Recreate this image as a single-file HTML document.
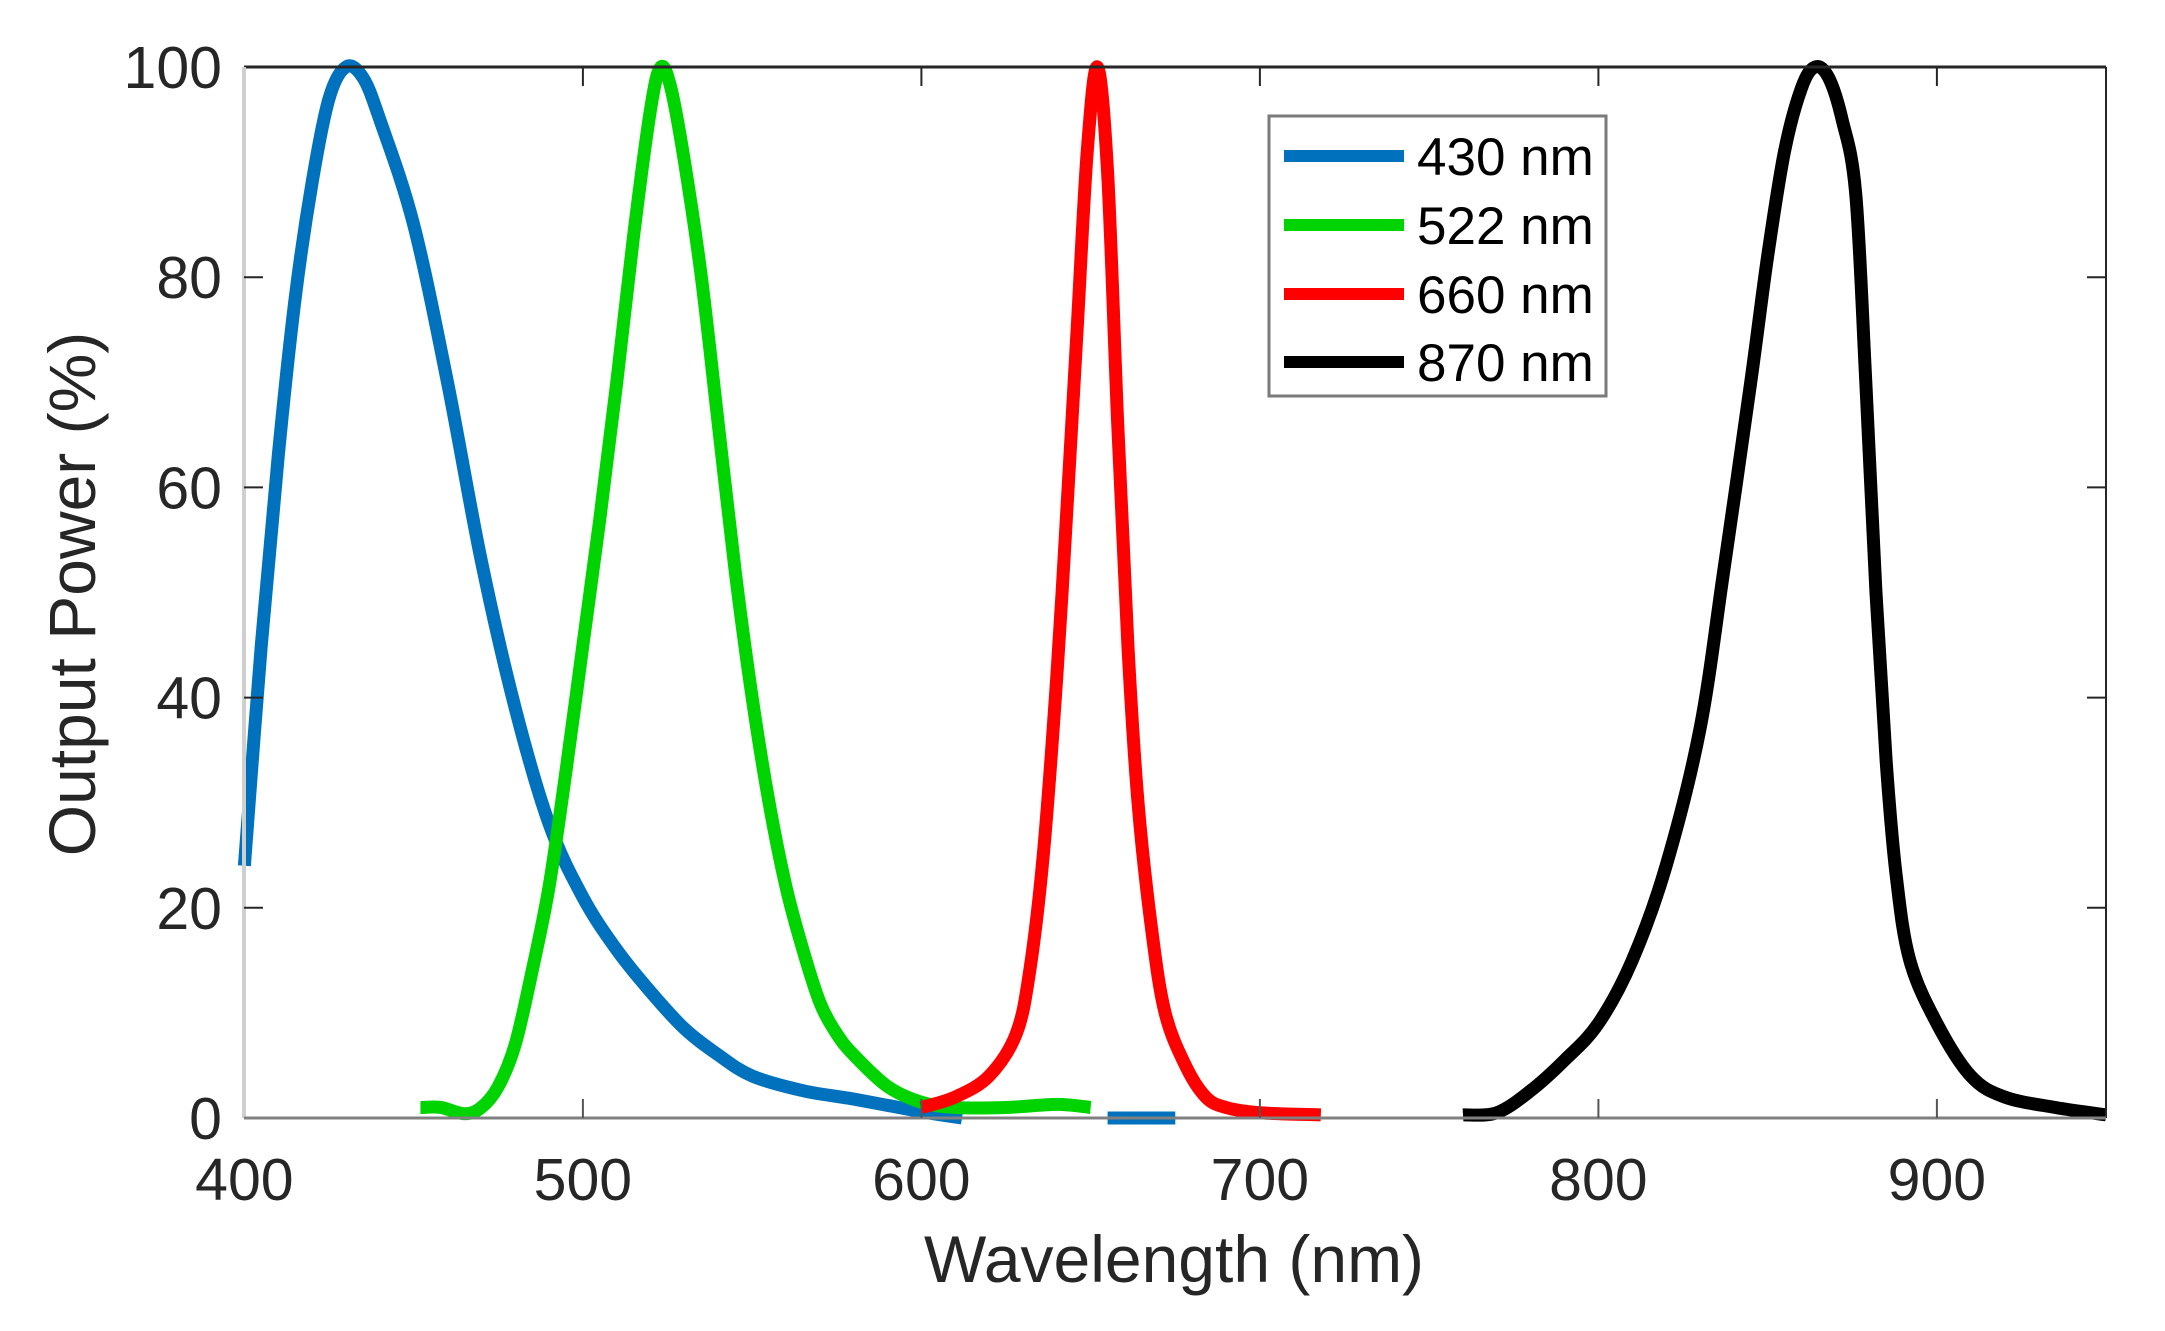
<!DOCTYPE html>
<html><head><meta charset="utf-8"><style>
html,body{margin:0;padding:0;background:#fff;}
svg{display:block;}
text{font-family:"Liberation Sans",Arial,sans-serif;fill:#262626;}
</style></head><body>
<svg id="s" width="2165" height="1331" viewBox="0 0 2165 1331" xmlns="http://www.w3.org/2000/svg">
<rect width="2165" height="1331" fill="#fff"/>
<g id="curves" fill="none" stroke-width="13" stroke-linejoin="round" stroke-linecap="butt"></g>
<line x1="244" y1="67" x2="2106" y2="67" stroke="#262626" stroke-width="3"/>
<line x1="2106" y1="67" x2="2106" y2="1118" stroke="#262626" stroke-width="2"/>
<line x1="244" y1="67" x2="244" y2="1118" stroke="#cfcfcf" stroke-width="4"/>
<line x1="244" y1="1118" x2="2106" y2="1118" stroke="#808080" stroke-width="3"/>
<g id="ticks" stroke="#262626" stroke-width="2"></g>
<g id="labels" font-size="59" text-anchor="middle"></g>
<text x="1174" y="1282" font-size="66" text-anchor="middle">Wavelength (nm)</text>
<text transform="translate(95,594) rotate(-90)" font-size="66" text-anchor="middle">Output Power (%)</text>
<rect x="1269" y="116" width="337" height="280" fill="#fff" stroke="#7a7a7a" stroke-width="3"/>
<line x1="1284" y1="156" x2="1404" y2="156" stroke="#0072BD" stroke-width="12"/>
<line x1="1284" y1="225" x2="1404" y2="225" stroke="#00D400" stroke-width="12"/>
<line x1="1284" y1="294" x2="1404" y2="294" stroke="#FF0000" stroke-width="12"/>
<line x1="1284" y1="362" x2="1404" y2="362" stroke="#000" stroke-width="12"/>
<g font-size="53">
<text x="1417" y="175" style="fill:#000">430 nm</text>
<text x="1417" y="244" style="fill:#000">522 nm</text>
<text x="1417" y="313" style="fill:#000">660 nm</text>
<text x="1417" y="381" style="fill:#000">870 nm</text>
</g>
</svg>
<script>
var X=function(n){return 244.4+(n-400)*3.385;};
var Y=function(p){return 1118-p*10.51;};
var NS="http://www.w3.org/2000/svg";
function el(par,tag,attrs,txt){var e=document.createElementNS(NS,tag);for(var k in attrs)e.setAttribute(k,attrs[k]);if(txt!=null)e.textContent=txt;par.appendChild(e);return e;}
var tk=document.getElementById('ticks'),lb=document.getElementById('labels');
for(var n=400;n<=900;n+=100){var x=X(n);
 if(n>400){el(tk,'line',{x1:x,y1:1118,x2:x,y2:1099,stroke:'#555'});el(tk,'line',{x1:x,y1:67,x2:x,y2:86});}
 el(lb,'text',{x:x,y:1200},n);}
for(var p=0;p<=100;p+=20){var y=Y(p);
 if(p>0&&p<100){el(tk,'line',{x1:244,y1:y,x2:263,y2:y});el(tk,'line',{x1:2106,y1:y,x2:2087,y2:y});}
 el(lb,'text',{x:222,y:y+21,'text-anchor':'end'},p);}
function path(pts){var P=pts.map(function(a){return[X(a[0]),Y(a[1])];});
 var d='M'+P[0][0]+','+P[0][1];
 for(var i=0;i<P.length-1;i++){var p0=P[Math.max(0,i-1)],p1=P[i],p2=P[i+1],p3=P[Math.min(P.length-1,i+2)];
  var c1=[p1[0]+(p2[0]-p0[0])/6,p1[1]+(p2[1]-p0[1])/6],c2=[p2[0]-(p3[0]-p1[0])/6,p2[1]-(p3[1]-p1[1])/6];
  d+=' C'+c1[0]+','+c1[1]+' '+c2[0]+','+c2[1]+' '+p2[0]+','+p2[1];}
 return d;}
var S=[
['#0072BD',[[400,24],[405,45],[410,63],[415,78],[420,89],[425,97],[430,100],[435,99],[440,95],[450,85],[460,70],[470,53],[480,39],[490,28],[500,21],[510,16],[520,12],[530,8.5],[540,6],[550,4],[565,2.6],[580,1.8],[600,0.6],[612,0]]],
['#0072BD',[[655,0],[675,0]]],
['#00D400',[[452,1],[458,1],[465,0.4],[470,1],[475,3],[480,7],[485,14],[490,22],[495,33],[500,45],[505,57],[510,70],[515,84],[520,96],[523,100],[526,98],[530,91],[535,80],[540,66],[545,52],[550,40],[555,30],[560,22],[565,16],[570,11],[575,8],[580,6],[590,3],[600,1.5],[610,1],[625,1],[640,1.3],[650,1]]],
['#FF0000',[[600,1],[610,2],[620,4],[628,8],[632,14],[636,25],[640,42],[643,58],[646,75],[649,92],[652,100],[655,90],[658,66],[661,45],[664,30],[668,18],[672,10],[678,5],[684,2],[690,1],[700,0.5],[718,0.3]]],
['#000000',[[760,0.3],[770,0.5],[780,2.6],[790,5.5],[800,9],[810,15],[820,24],[830,37],[837,52],[845,70],[850,82],[855,92],[860,98],[864,100],[868,99],[872,95],[876,88],[879,70],[882,50],[885,34],[888,23],[892,15],[900,9],[910,4],[920,2],[935,1],[950,0.3]]]
];
var g=document.getElementById('curves');
S.forEach(function(s){el(g,'path',{d:path(s[1]),stroke:s[0]});});
</script>
</body></html>
